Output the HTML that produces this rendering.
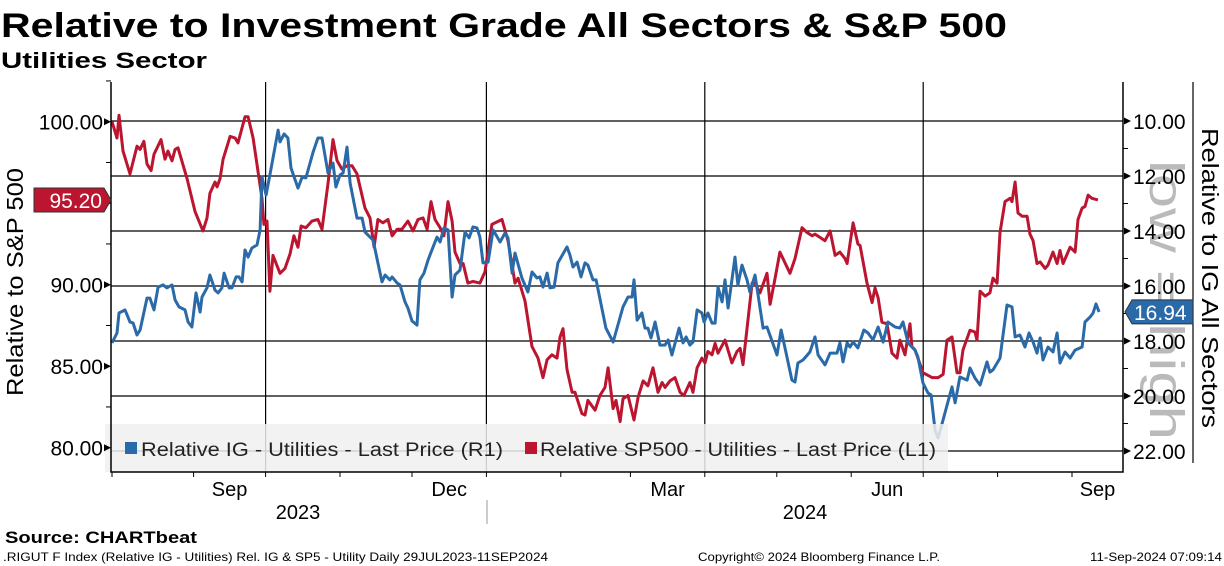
<!DOCTYPE html>
<html><head><meta charset="utf-8"><style>
body{margin:0;background:#fff;}
svg{display:block;font-family:"Liberation Sans","DejaVu Sans",sans-serif;}
</style></head><body>
<svg id="chart" width="1224" height="566" viewBox="0 0 1224 566">
<text x="1" y="37" font-size="34" font-weight="bold" textLength="1006" lengthAdjust="spacingAndGlyphs">Relative to Investment Grade All Sectors &amp; S&amp;P 500</text>
<text x="1" y="68" font-size="22" font-weight="bold" textLength="206" lengthAdjust="spacingAndGlyphs">Utilities Sector</text>
<g id="grid"></g>
<text transform="translate(1150,300) rotate(90)" text-anchor="middle" font-size="48" fill="#aaa" opacity="0.8" textLength="280" lengthAdjust="spacingAndGlyphs">low = high</text>
<g id="series"></g>
<g>
<rect x="105" y="424" width="843" height="48" fill="#f0f0f0" opacity="0.85"/>
<rect x="125" y="442" width="12" height="12" fill="#2a6aa8"/>
<text x="141" y="456" font-size="19" fill="#222" textLength="362" lengthAdjust="spacingAndGlyphs">Relative IG - Utilities - Last Price (R1)</text>
<rect x="525" y="442" width="12" height="12" fill="#bb1530"/>
<text x="540" y="456" font-size="19" fill="#222" textLength="396" lengthAdjust="spacingAndGlyphs">Relative SP500 - Utilities - Last Price (L1)</text>
</g>
<g id="axes"></g>
<text transform="translate(23,282) rotate(-90)" text-anchor="middle" font-size="23" textLength="228" lengthAdjust="spacingAndGlyphs">Relative to S&amp;P 500</text>
<text transform="translate(1202,278) rotate(90)" text-anchor="middle" font-size="23" textLength="300" lengthAdjust="spacingAndGlyphs">Relative to IG All Sectors</text>
<text x="298" y="519" text-anchor="middle" font-size="20">2023</text>
<text x="805" y="519" text-anchor="middle" font-size="20">2024</text>
<line x1="487" y1="500" x2="487" y2="524" stroke="#999"/>
<text x="5" y="543" font-size="17" font-weight="bold" textLength="192" lengthAdjust="spacingAndGlyphs">Source:  CHARTbeat</text>
<text x="3" y="561" font-size="12" textLength="545" lengthAdjust="spacingAndGlyphs">.RIGUT F Index (Relative IG - Utilities) Rel. IG &amp; SP5 - Utility  Daily 29JUL2023-11SEP2024</text>
<text x="698" y="561" font-size="12" textLength="242" lengthAdjust="spacingAndGlyphs">Copyright© 2024 Bloomberg Finance L.P.</text>
<text x="1090" y="561" font-size="12" textLength="132" lengthAdjust="spacingAndGlyphs">11-Sep-2024 07:09:14</text>
</svg>
<script>
const redDays=[0,2.1,2.9,4.6,7.5,10.4,11.7,13.3,14.6,16.3,17.5,20.4,22.1,23.3,25,26.3,27.5,31.3,34.6,37.9,39.6,40.8,42.9,43.8,45,46.3,49.2,51.3,52.5,55.4,56.7,58.8,60.8,62.5,63.3,64.6,65.8,67.1,70,72.1,74.2,75.8,77.5,78.8,80.8,83.3,85.8,87.5,90,92.1,93.8,95.8,97.9,100,102.1,105.4,107.5,109.2,110.8,112.9,115,116.7,118.8,120.8,123.3,125.4,127.5,129.6,131.3,132.9,134.6,136.7,138.3,140,141.7,142.9,145,146.3,148.3,150.4,153.3,155.4,158.3,162.5,165,167.9,169.2,172.1,175,177.5,179.6,181.3,183.3,185.4,186.7,187.9,189.6,191.7,192.9,195.8,197.1,198.3,201.3,203.3,205.4,206.7,208.8,210,211.7,212.9,215,217.5,219.2,221.3,223.3,225.4,227.5,229.2,230.4,232.5,234.6,236.7,238.3,240.8,242.1,243.8,245.8,247.1,248.3,250,251.3,252.5,255.4,258.3,260.4,261.7,262.9,264.6,266.7,267.9,270,272.9,274.2,276.3,278.3,282.5,284.6,287.5,289.6,291.7,292.9,295,297.1,299.2,301.3,303.3,305.4,306.3,308.8,310.8,311.7,314.6,316.7,317.9,319.2,320.8,322.9,325,327.1,328.3,330.4,332.5,333.3,334.6,335.8,337.9,341.7,344.2,346.3,347.9,350,352.1,353.3,354.6,357.5,359.6,360.4,361.7,363.8,365.8,367.1,368.8,370,372.1,374.2,375,376.3,377.5,379.2,381.3,382.5,383.8,385.4,386.7,388.8,390,392.1,393.8,395,396.3,399.2,401.3,402.5,404.2,405.4,406.7,408.3,410.8];
const redValues=[100,99,100.4,98.2,96.8,98.5,98.3,98.8,97.4,97,98,98.9,97.7,98.2,97.6,98.3,98.4,96.5,94.5,93.3,94.1,95.6,96.3,96,96.5,97.7,99.1,99,98.7,100.3,100.3,99,97,95.3,93.7,93.9,89.6,91.8,90.7,91,91.9,93,92.3,93.6,93.5,93.9,94,93.4,96.2,98.9,97.6,97.1,97.3,97.3,96.8,94.7,94.1,92.3,94,93.8,94,93,93.4,93.4,93.9,93.3,94,94.1,93.4,95.1,94,93.5,93,95.1,93.9,92,91.3,91.3,90.1,90.2,90.1,90.8,93.7,94,92.7,90.1,90.4,89,86.2,85.5,84.3,85.4,85.7,85.5,86.8,87.3,84.8,83.4,83.4,82.1,82,82.9,82.3,83.2,83.7,84.9,82.4,82.9,81.6,83,83.2,81.7,83.1,84.1,83.8,84.9,83.4,84,83.7,84.1,84.3,83.4,83.2,84,83.4,84.9,85.5,85.2,85.9,85.7,86.4,85.8,86.6,85.2,85.9,86.1,85.1,87.3,90.1,90.1,89.5,90.7,88.8,90.4,92,90.7,91.6,93.5,93.2,93,93.1,92.9,92.7,93.3,91.8,92,91.6,91.3,93.8,92.5,92.4,90.1,88.9,89.8,89.2,87.7,87.6,85.8,85.5,86.6,85.7,87.6,86.2,86,85.5,84.6,84.3,84.3,84.5,86.6,86.8,84.6,84.6,86,87.2,87.1,86.6,89.6,89.3,89.5,90.4,90.1,93.2,95.1,95.3,95.1,96.3,94.4,94.2,94.2,93.1,92.7,91.3,91.4,91,91.2,92,91.3,92.1,91.3,92.3,92,94,94.7,94.8,95.5,95.3,95.2];
const blueDays=[0,2.1,2.9,5.4,7.5,8.8,10.4,11.7,14.6,15.8,17.5,19.2,21.3,22.9,25,26.3,27.9,30.4,31.7,33.3,35,36.7,37.5,39.6,40.8,42.9,44.2,45.8,46.7,48.8,50,51.7,52.9,54.2,55.4,56.7,58.3,60.4,61.7,62.5,64.2,65.8,69.2,70,71.7,73.3,74.6,77.5,79.2,80.8,83.8,85.8,87.5,90,92.1,93.3,95,96.3,97.9,99.2,102.1,104.2,105.4,107.5,108.8,110.8,112.5,113.8,115.8,116.7,118.8,120,122.1,123.3,125,127.1,128.3,130,131.7,133.8,135.4,136.7,138.3,140,141.7,142.9,145,147.1,148.8,150.4,152.1,153.3,154.6,156.7,158.8,161.7,163.8,165,166.7,167.9,170.8,173.3,175,177.1,178.3,179.6,181.3,182.5,184.2,185.8,189.6,190.8,192.1,193.8,195.4,197.1,198.3,200.4,201.7,205.8,208.8,212.9,215,216.7,217.5,218.8,220.8,222.1,223.3,224.6,226.3,228.3,230.4,231.7,233.3,236.3,237.9,239.2,240.8,242.1,243.8,245.8,246.7,248.3,250,251.3,252.5,254.2,255.4,256.7,259.6,260.8,262.5,264.6,265.8,267.9,269.2,271.3,272.9,277.1,278.8,280.4,283.3,284.6,285.8,287.9,290.8,292.9,294.2,297.1,299.2,302.1,303.3,304.6,306.3,307.5,308.8,310.8,313.3,315,317.1,319.2,321.3,323.3,326.3,328.3,329.6,331.7,334.6,335.8,337.9,340,341.3,342.9,344.2,346.3,348.3,350,351.3,353.3,356.3,357.5,359.6,361.7,364.6,365.8,367.1,370,372.9,375,376.3,378.3,380.4,382.1,383.8,385.4,386.7,387.9,390,392.1,393.8,395,397.1,399.2,401.3,404.2,405.4,407.5,408.8,410,411.3];
const blueValues=[18.07,17.71,16.98,16.87,17.31,17.35,17.78,17.6,16.44,16.44,16.87,16.04,15.96,16.07,15.96,16.51,16.76,16.87,17.31,17.49,16.25,16.95,16.4,16.07,15.6,16.15,16.25,16.07,15.53,16.07,16.07,15.67,15.67,15.85,14.69,14.95,14.62,14.51,13.96,12.04,12.69,11.96,10.33,10.76,10.47,10.62,11.71,12.44,12.04,12.07,11.13,10.62,10.62,11.89,11.53,12.4,11.96,11.89,10.95,12.25,13.53,13.53,14.04,14.22,14.33,15.16,15.85,15.6,15.78,15.67,15.89,15.96,16.58,16.8,17.27,17.42,15.78,15.53,15.05,14.58,14.22,14.4,13.89,13.96,16.4,15.6,15.42,14.04,14.25,13.85,13.89,14.22,15.16,15.13,13.96,14.4,14.07,14.25,15.53,14.8,15.71,16.22,15.49,15.71,15.67,16.04,15.53,16.07,16.04,15.16,14.58,14.87,15.31,15.13,15.67,15.16,15.24,15.78,15.78,17.53,18.04,16.76,16.4,16.4,15.78,17.24,16.98,17.53,17.53,17.89,17.31,18.15,18.15,17.96,18.51,17.53,18.07,17.85,18.15,18.04,16.87,16.98,17.31,16.98,17.35,17.35,16.04,16.58,15.78,16.8,14.95,15.96,15.24,15.78,16.22,15.6,16.33,17.53,17.49,18.51,17.6,18.25,19.42,19.49,18.8,18.69,18.4,17.85,18.51,18.87,18.44,18.44,18.07,18.76,18.07,18.22,18.04,18.25,17.6,17.71,17.96,17.49,18.04,17.31,17.49,17.53,17.31,18.07,18.33,18.58,19.53,19.89,19.96,21.24,21.53,20.87,20.22,19.67,20.25,19.31,19.42,18.98,19.35,19.6,18.76,19.13,19.05,18.62,16.69,16.76,17.85,17.78,18.22,17.71,18.04,18.44,17.89,18.69,18.22,18.4,17.71,18.8,18.4,18.62,18.33,18.22,17.31,17.13,16.98,16.65,16.94];
const leftTicks=[80,85,90,95,100];
const leftTickLabels=["80.00","85.00","90.00","95.00","100.00"];
const rightTicks=[10,12,14,16,18,20,22];
const rightTickLabels=["10.00","12.00","14.00","16.00","18.00","20.00","22.00"];
const monthDays=[0,34,64,95,125,156,187,216,247,277,308,338,369,400,431];
const monthLabels=["","Sep","","","Dec","","","Mar","","","Jun","","","Sep",""];
const quarterDays=[64,156,247,338];
const lastRed=95.20, lastBlue=16.94;

const NS="http://www.w3.org/2000/svg";
const PL=111,PR=1123,PT=82,PB=472;
const xS=d=>112+d*2.4;
const yL=v=>121.7+(100-v)*16.3;
const yR=v=>121+(v-10)*27.5;
function mk(tag,attrs,parent){const e=document.createElementNS(NS,tag);for(const k in attrs)e.setAttribute(k,attrs[k]);parent.appendChild(e);return e;}
const grid=document.getElementById('grid'),axes=document.getElementById('axes'),series=document.getElementById('series');
rightTicks.forEach((v,i)=>{const l=mk('line',{x1:PL,x2:PR,y1:yR(v),y2:yR(v),stroke:'#000','stroke-width':1.2},grid);

});
quarterDays.forEach(d=>{const l=mk('line',{x1:xS(d),x2:xS(d),y1:PT,y2:PB,stroke:'#000','stroke-width':1.2},grid);

});
function path(days,vals,ys,color,name){let d='';days.forEach((t,i)=>{d+=(i?'L':'M')+xS(t).toFixed(1)+','+ys(vals[i]).toFixed(1);});
const p=mk('path',{d:d,fill:'none',stroke:color,'stroke-width':3,'stroke-linejoin':'round'},series);

}
path(redDays,redValues,yL,'#bb1530','sp500-line');
path(blueDays,blueValues,yR,'#2a6aa8','ig-line');
const fr=mk('path',{d:`M${PL},${PT}V${PB}H${PR}V${PT}`,fill:'none',stroke:'#000','stroke-width':1.5},axes);


const rb=mk('line',{x1:1193,x2:1193,y1:PT,y2:463,stroke:'#000','stroke-width':1.2},axes);


leftTicks.forEach((v,i)=>{const y=yL(v);
const a=mk('path',{d:`M${PL},${y}l-7,-3.5v7z`,fill:'#000'},axes);


const m=mk('line',{x1:PL,x2:PL-5,y1:yL(v+2.5),y2:yL(v+2.5),stroke:'#000'},axes);


const t=mk('text',{x:PL-8,y:y+8,'text-anchor':'end','font-size':21},axes);t.textContent=leftTickLabels[i];

});
rightTicks.forEach((v,i)=>{const y=yR(v);
const a=mk('path',{d:`M${PR+8},${y}l-7,-3.5v7z`,fill:'#000'},axes);


if(v<22){const m=mk('line',{x1:PR,x2:PR+5,y1:yR(v+1),y2:yR(v+1),stroke:'#000'},axes);

}
const t=mk('text',{x:PR+10,y:y+8,'font-size':21},axes);t.textContent=rightTickLabels[i];

});
monthDays.forEach((d,i)=>{const x=xS(d);
if(x<=PR){const m=mk('line',{x1:x,x2:x,y1:PB,y2:PB+5,stroke:'#000'},axes);

}
if(monthLabels[i]){const nx=Math.min(xS(monthDays[i+1]),PR);
const t=mk('text',{x:(x+nx)/2,y:PB+24,'text-anchor':'middle','font-size':20},axes);t.textContent=monthLabels[i];

}});
const ry=yL(lastRed);
const rt=mk('path',{d:`M34,${ry-12}H104L111,${ry}L104,${ry+12}H34Z`,fill:'#bb1530',stroke:'#333'},axes);


const rtt=mk('text',{x:102,y:ry+8,'text-anchor':'end','font-size':21,fill:'#fff'},axes);rtt.textContent=lastRed.toFixed(2);


const by=yR(lastBlue);
const bt=mk('path',{d:`M1125,${by}L1132,${by-12}H1193V${by+12}H1132Z`,fill:'#2a6aa8',stroke:'#333'},axes);


const btt=mk('text',{x:1134,y:by+8,'font-size':21,fill:'#fff'},axes);btt.textContent=lastBlue.toFixed(2);


</script>
</body></html>
